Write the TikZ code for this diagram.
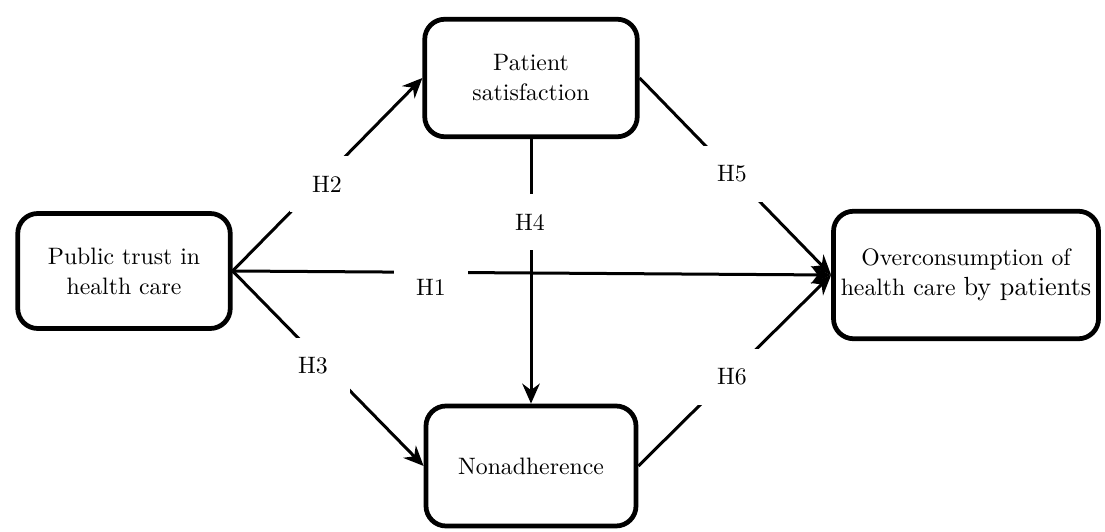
\documentclass[tikz,border=0pt]{standalone}
\usetikzlibrary{arrows.meta}
\tikzset{hyp/.style={-{Stealth[length=8pt,width=7pt]}, line width=1.2pt},
  cbox/.style={draw, line width=1.9pt, rounded corners=8pt, align=center, fill=white, inner sep=2pt},
  hlbl/.style={fill=white, inner xsep=9pt, inner ysep=8pt}}

\begin{document}
\begin{tikzpicture}[x=0.4pt, y=-0.4pt, font=\fontsize{9.5}{12}\selectfont]
  \useasboundingbox (0,0) rectangle (1105,532);
  % constructs
  \node[cbox, minimum width=85pt, minimum height=46pt] (trust) at (124,271) {Public trust in\\health care};
  \node[cbox, minimum width=85pt, minimum height=47pt] (sat) at (531,78) {Patient\\satisfaction};
  \node[cbox, minimum width=84pt, minimum height=48pt] (nonadh) at (531,466) {Nonadherence};
  \node[cbox, minimum width=106pt, minimum height=51pt] (overc) at (966,275) {Overconsumption of\\health care {\fontsize{10.5}{13}\selectfont by patients}};
  % hypothesised paths
  \draw[hyp] (trust.east) -- (overc.west);
  \draw[hyp] (trust.east) -- (sat.west);
  \draw[hyp] (trust.east) -- (nonadh.west);
  \draw[hyp] (sat.south) -- (nonadh.north);
  \draw[hyp] (sat.east) -- (overc.west);
  \draw[hyp] (nonadh.east) -- (overc.west);
  % path labels
  \node[hlbl] (h1) at (431,287) {H1};
  \node[hlbl] (h2) at (327,184) {H2};
  \node[hlbl] (h3) at (313,366) {H3};
  \node[hlbl] (h4) at (530,222) {H4};
  \node[hlbl] (h5) at (732,174) {H5};
  \node[hlbl] (h6) at (732,377) {H6};
\end{tikzpicture}
\end{document}
